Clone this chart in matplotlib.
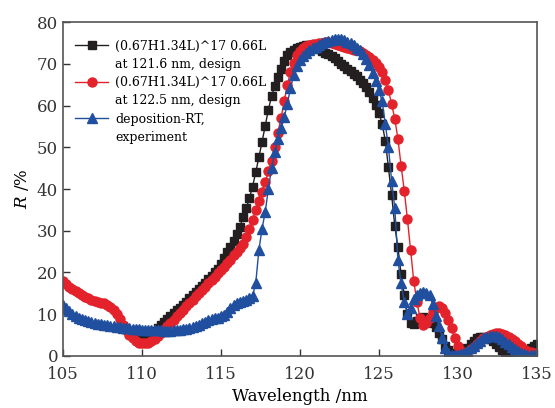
import numpy as np
import matplotlib.pyplot as plt
from matplotlib.lines import Line2D

nan = np.nan

# wavelength grid (nm), 0.2 nm step
wavelength = np.round(np.arange(105.0, 135.01, 0.2), 1)

# design at 121.6 nm (hidden under the other curves below ~108.8 nm)
r_black = [
    nan, nan, nan, nan, nan, nan, nan, nan, nan, nan,             # 105.0-106.8
    nan, nan, nan, nan, nan, nan, nan, nan, nan, 7.2,             # 107.0-108.8
    6.4, 5.6, 5.0, 4.6, 4.3, 4.2, 4.3, 4.8, 5.3, 6.0,             # 109.0-110.8
    6.7, 7.4, 8.1, 8.8, 9.5, 10.2, 10.9, 11.6, 12.3, 13.0,        # 111.0-112.8
    13.8, 14.6, 15.3, 16.0, 16.8, 17.6, 18.4, 19.2, 20.0, 20.8,   # 113.0-114.8
    22.0, 23.4, 24.8, 26.2, 27.6, 29.2, 31.0, 33.2, 35.4, 37.8,   # 115.0-116.8
    40.6, 44.0, 47.6, 51.3, 55.2, 59.0, 62.2, 64.6, 66.8, 68.8,   # 117.0-118.8
    70.6, 72.0, 72.8, 73.4, 73.8, 74.1, 74.3, 74.4, 74.4, 74.2,   # 119.0-120.8
    73.9, 73.5, 73.1, 72.7, 72.3, 71.8, 71.3, 70.7, 70.0, 69.4,   # 121.0-122.8
    68.8, 68.2, 67.6, 67.0, 66.2, 65.4, 64.4, 63.2, 61.8, 60.2,   # 123.0-124.8
    58.2, 55.6, 51.6, 45.2, 38.6, 31.2, 26.0, 19.6, 14.6, 10.0,   # 125.0-126.8
    8.0, 7.6, 8.4, 9.2, 9.4, 9.2, 8.6, 7.8, 7.0, 5.6,             # 127.0-128.8
    4.0, 2.4, 1.4, 0.8, 0.6, 0.6, 0.8, 1.2, 1.8, 2.8,             # 129.0-130.8
    3.6, 4.2, 4.5, 4.6, 4.4, 4.0, 3.5, 2.8, 2.1, 1.5,             # 131.0-132.8
    0.9, 0.5, 0.2, 0.2, 0.3, 0.5, 0.9, 1.4, 1.9, 2.4,             # 133.0-134.8
    2.9,                                                          # 135.0
]

# design at 122.5 nm
r_red = [
    18.0, 17.3, 16.6, 16.0, 15.5, 15.0, 14.6, 14.2, 13.8, 13.5,
    13.2, 13.0, 12.8, 12.6, 12.3, 11.8, 11.1, 10.0, 8.8, 7.5,
    6.2, 5.1, 4.2, 3.6, 3.2, 3.0, 3.0, 3.2, 3.6, 4.1,
    4.8, 5.5, 6.3, 7.1, 7.9, 8.7, 9.5, 10.3, 11.1, 11.9,
    12.7, 13.5, 14.3, 15.0, 15.8, 16.6, 17.4, 18.2, 19.0, 19.8,
    20.6, 21.4, 22.2, 23.1, 24.1, 25.0, 25.8, 26.9, 28.4, 30.4,
    32.6, 35.0, 37.2, 39.4, 41.6, 44.2, 46.8, 50.0, 53.5, 57.0,
    61.0, 65.0, 68.0, 70.2, 72.0, 73.0, 73.7, 74.2, 74.5, 74.7,
    74.8, 74.9, 75.0, 75.1, 75.1, 75.0, 74.8, 74.6, 74.3, 74.0,
    73.8, 73.6, 73.4, 73.2, 73.0, 72.6, 72.2, 71.6, 71.0, 70.2,
    69.2, 68.0, 66.0, 63.6, 60.4, 56.8, 52.0, 45.6, 39.6, 32.8,
    25.4, 18.0, 13.0, 9.0, 7.4, 7.8, 9.2, 10.6, 11.6, 12.0,
    11.4, 10.2, 8.6, 6.6, 4.2, 2.4, 1.2, 0.8, 1.0, 1.6,
    2.2, 2.9, 3.6, 4.2, 4.6, 5.0, 5.3, 5.4, 5.4, 5.3,
    5.0, 4.6, 4.1, 3.5, 2.9, 2.3, 1.7, 1.3, 0.9, 0.6,
    0.5,
]

# deposition-RT, experiment
r_blue = [
    12.2, 11.4, 10.7, 10.1, 9.6, 9.2, 8.8, 8.5, 8.3, 8.1,
    7.9, 7.7, 7.6, 7.5, 7.4, 7.3, 7.1, 7.0, 6.9, 6.8,
    6.7, 6.6, 6.5, 6.4, 6.4, 6.3, 6.3, 6.3, 6.2, 6.2,
    6.2, 6.2, 6.1, 6.1, 6.1, 6.2, 6.2, 6.3, 6.4, 6.5,
    6.7, 6.9, 7.2, 7.5, 7.9, 8.2, 8.5, 8.8, 9.0, 9.2,
    9.5, 9.9, 10.5, 11.4, 12.3, 12.8, 13.0, 13.2, 13.4, 13.8,
    14.4, 17.5, 25.4, 30.5, 34.5, 40.0, 45.0, 48.8, 52.0, 54.6,
    57.2, 60.4, 64.2, 67.2, 69.4, 70.8, 71.8, 72.6, 73.2, 73.7,
    74.1, 74.5, 74.9, 75.2, 75.5, 75.7, 75.9, 76.0, 75.9, 75.6,
    75.3, 74.9, 74.4, 73.8, 73.2, 72.4, 71.2, 69.6, 67.8, 65.8,
    63.6, 61.0, 55.6, 50.0, 42.0, 35.4, 23.0, 17.4, 13.0, 10.0,
    11.6, 13.6, 14.6, 15.2, 15.4, 15.2, 14.6, 12.4, 9.6, 7.2,
    4.4, 2.0, 0.8, 0.3, 0.2, 0.2, 0.4, 0.8, 1.3, 1.9,
    2.5, 3.1, 3.7, 4.2, 4.6, 4.8, 4.9, 4.8, 4.5, 4.0,
    3.4, 2.8, 2.2, 1.6, 1.1, 0.7, 0.4, 0.2, 0.2, 0.2,
    0.3,
]

labels = [('(0.67H1.34L)^17 0.66L', 'at 121.6 nm, design'),
          ('(0.67H1.34L)^17 0.66L', 'at 122.5 nm, design'),
          ('deposition-RT,', 'experiment')]

plt.rcParams['font.family'] = 'DejaVu Serif'
plt.rcParams['mathtext.fontset'] = 'dejavuserif'

fig = plt.figure(figsize=(5.55, 4.08), dpi=100)
ax = fig.add_axes([0.1135, 0.1275, 0.854, 0.8185])

l1, = ax.plot(wavelength, r_black, '-s', color='#231f20', ms=5.8, lw=1)
l2, = ax.plot(wavelength, r_red, '-o', color='#e3222b', ms=6.5, lw=1)
l3, = ax.plot(wavelength, r_blue, '-^', color='#1f4f9e', ms=7, lw=1)

ax.set_xlim(105, 135)
ax.set_ylim(0, 80)
ax.set_xticks([105, 110, 115, 120, 125, 130, 135])
ax.set_yticks([0, 10, 20, 30, 40, 50, 60, 70, 80])
ax.tick_params(direction='in', length=5, width=1, labelsize=12, colors='#333333')
ax.tick_params(axis='x', pad=7)
for s in ax.spines.values():
    s.set_linewidth(1.2)
    s.set_color('#555555')

ax.set_xlabel('Wavelength /nm', fontsize=12, labelpad=4)
ax.set_ylabel(r'$R$ /%', fontsize=12, labelpad=4)

# two-line legend entries: marker on the first line only
blank = Line2D([], [], linestyle='none')
handles, texts = [], []
for h, (a, b) in zip([l1, l2, l3], labels):
    handles += [h, blank]
    texts += [a, b]
ax.legend(handles, texts, loc='upper left', frameon=False, fontsize=9,
          handlelength=2.65, labelspacing=0.42, handletextpad=0.55,
          borderaxespad=0.0, bbox_to_anchor=(0.015, 0.962))

fig.savefig('out.png', dpi=100)
